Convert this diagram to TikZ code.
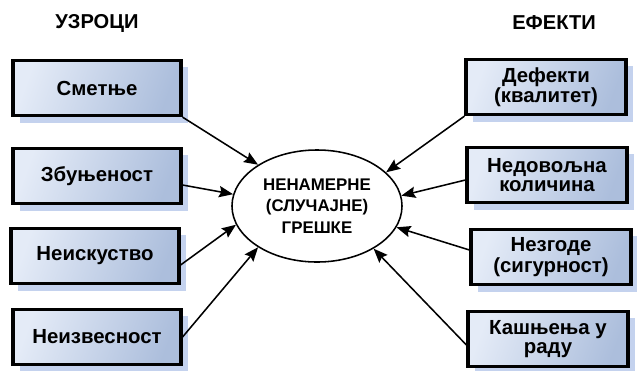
\documentclass[tikz,border=0pt]{standalone}
\usepackage{fontspec}
\setmainfont{Liberation Sans}
\usetikzlibrary{positioning, arrows.meta, shadows, shapes.geometric}

\definecolor{boxlight}{RGB}{228,235,247}
\definecolor{boxdark}{RGB}{172,190,220}
\definecolor{shadowblue}{RGB}{196,210,238}

\begin{document}
\begin{tikzpicture}[
    x=0.025cm, y=-0.025cm,
    cause/.style={rectangle, draw, line width=2.2pt, minimum width=4.2cm, minimum height=1.38cm,
        align=center, font=\bfseries\fontsize{14.5}{13}\selectfont,
        left color=boxlight, right color=boxdark, shading angle=70,
        drop shadow={shadow xshift=5pt, shadow yshift=-5pt, fill=shadowblue, opacity=1}},
    effect/.style={cause, minimum width=4.0cm},
    head/.style={font=\bfseries\fontsize{14.3}{16}\selectfont},
    centre/.style={ellipse, draw, line width=1.1pt, minimum width=4.25cm, minimum height=2.8cm,
        align=center, font=\bfseries\fontsize{12}{15.5}\selectfont},
    arrow/.style={-{Stealth[length=10pt, width=8pt, inset=1.5pt]}, line width=1.1pt}
]
\useasboundingbox (0,0) rectangle (637,370);

% Naslovi
\node[head] (uzroci) at (97,23) {УЗРОЦИ};
\node[head] (efekti) at (554,23) {ЕФЕКТИ};

% Uzroci levo
\node[cause] (smetnje) at (97,88) {Сметње};
\node[cause] (zbunjenost) at (97,176) {Збуњеност};
\node[cause] (neiskustvo) at (95,256) {Неискуство};
\node[cause] (neizvesnost) at (97,337) {Неизвесност};

% Efekti desno
\node[effect] (defekti) at (546,87) {Дефекти\\(квалитет)};
\node[effect] (nedovoljna) at (547,175) {Недовољна\\количина};
\node[effect] (nezgode) at (551,257) {Незгоде\\(сигурност)};
\node[effect] (kasnjenja) at (548,339) {Кашњења у\\раду};

% Centar
\node[centre] (greske) at (317,206) {НЕНАМЕРНЕ\\(СЛУЧАЈНЕ)\\ГРЕШКЕ};

% Strelice
\draw[arrow] (smetnje.south east) -- (greske.145);
\draw[arrow] (zbunjenost.east) ++(0,9) -- (greske.172);
\draw[arrow] (neiskustvo.east) ++(0,9) -- (greske.193);
\draw[arrow] (neizvesnost.east) -- (greske.215);
\draw[arrow] (defekti.south west) -- (greske.26);
\draw[arrow] (nedovoljna.west) ++(0,5) -- (greske.7);
\draw[arrow] (nezgode.west) ++(0,-7) -- (greske.345);
\draw[arrow] (kasnjenja.west) ++(0,6) -- (greske.323);

\end{tikzpicture}
\end{document}
